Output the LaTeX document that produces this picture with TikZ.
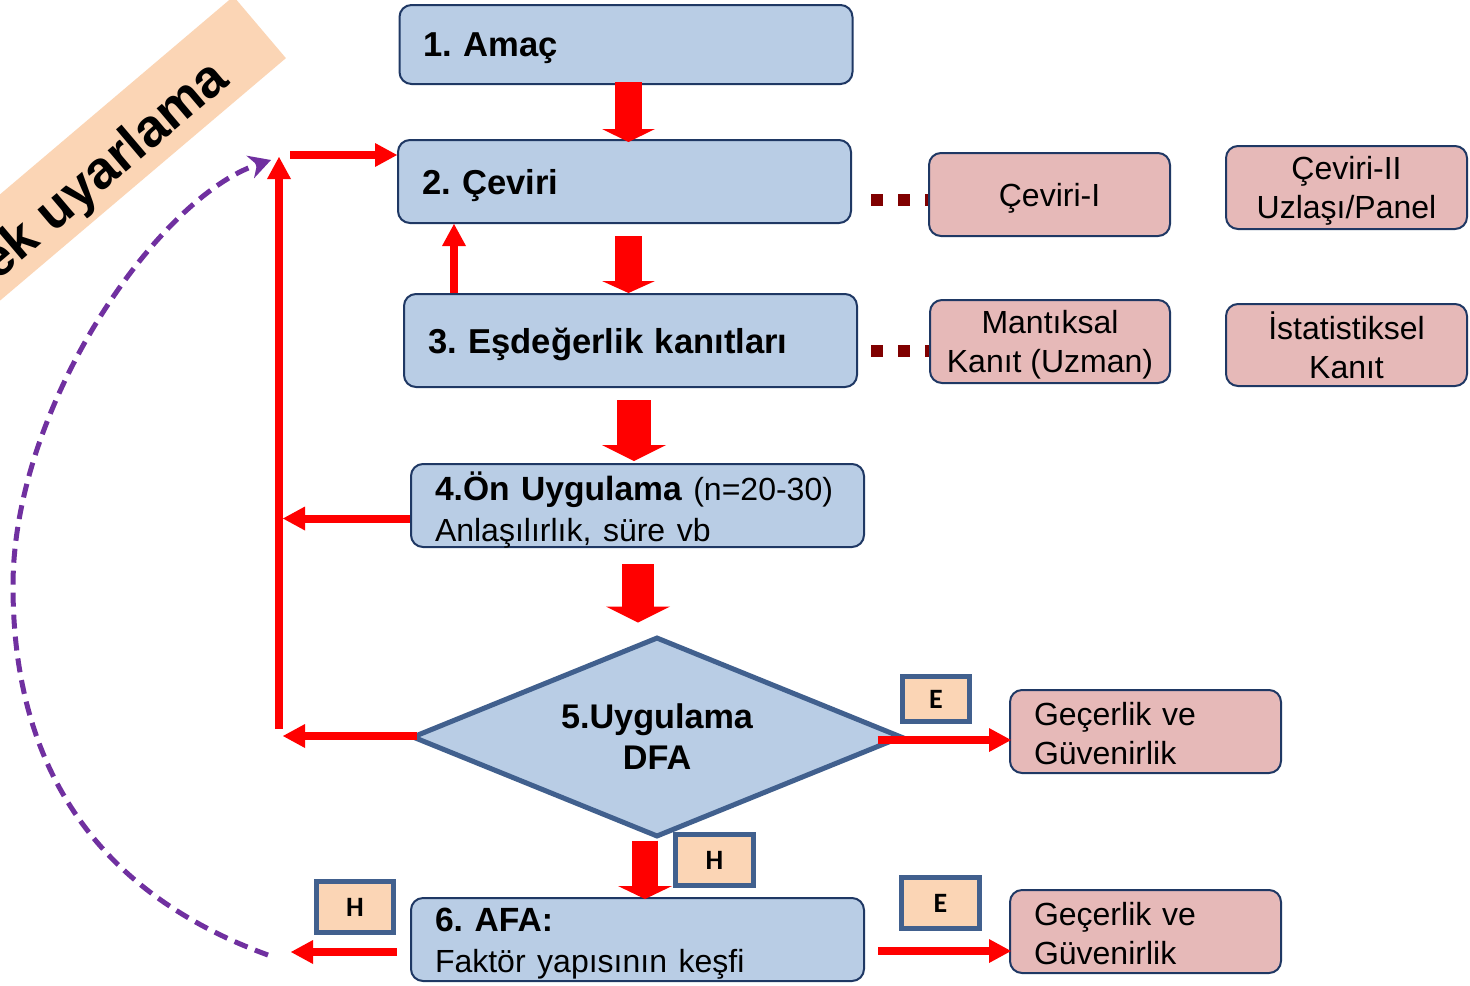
\documentclass[tikz,border=0pt]{standalone}
\usepackage{fontspec}
\setmainfont{Liberation Sans}
\newfontfamily\calib{Carlito}
\usetikzlibrary{arrows.meta,shapes.geometric,backgrounds,calc}
\frenchspacing
\definecolor{boxblue}{RGB}{185,205,229}
\definecolor{boxpink}{RGB}{230,185,184}
\definecolor{peach}{RGB}{251,213,181}
\definecolor{navy}{RGB}{31,56,100}
\definecolor{steel}{RGB}{65,96,142}
\definecolor{dotred}{RGB}{128,0,0}
\definecolor{purp}{RGB}{112,48,160}
\tikzset{
  bluebox/.style={draw=navy, line width=1pt, fill=boxblue, rounded corners=6pt,
    minimum height=41.5pt, inner xsep=12pt, inner ysep=0pt, text width=202.5pt,
    text depth=0pt, align=left, font=\fontsize{17.3}{20.5}\selectfont\bfseries},
  pinkbox/.style={draw=navy, line width=1pt, fill=boxpink, rounded corners=6pt,
    minimum width=120.5pt, minimum height=41.5pt, inner sep=0pt, align=center,
    text depth=0pt, font=\fontsize{16}{19.5}\selectfont},
  leftpink/.style={pinkbox, inner xsep=12pt, text width=111.5pt, align=left, text depth=18pt},
  tagbox/.style={draw=steel, line width=2.5pt, fill=peach, inner sep=0pt,
    minimum width=39pt, minimum height=25.5pt, font=\calib\fontsize{14}{16}\selectfont\bfseries},
  thinarrow/.style={draw=red, line width=4pt, -{Triangle[width=12pt,length=11pt,line width=0pt]}},
  dotline/.style={draw=dotred, line width=6pt, dash pattern=on 6pt off 7.5pt},
}
\begin{document}
\begin{tikzpicture}[x=0.5pt,y=-0.5pt]
\useasboundingbox (0,0) rectangle (1470,985);
\begin{pgfonlayer}{background}
\fill[white] (0,0) rectangle (1470,985);
\end{pgfonlayer}
\clip (0,0) rectangle (1470,985);

% banner
\node[fill=peach, rotate=40.3, minimum width=500pt, minimum height=40.5pt, inner sep=0pt, anchor=east] (ban) at (260,27) {};
\node[rotate=40.3, anchor=east, inner sep=0pt, font=\fontsize{26.5}{30}\selectfont\bfseries] (bantext) at (222.6,72.2) {ek uyarlama};

% main boxes
\node[bluebox, minimum height=39.5pt] (b1) at (626,44.5) {1. Amaç};
\node[bluebox] (b2) at (624.5,181.5) {2. Çeviri};
\node[bluebox, minimum height=46.5pt] (b3) at (630.5,340.5) {3. Eşdeğerlik kanıtları};
\node[bluebox, text depth=19.5pt] (b4) at (637.5,505.5) {\fontsize{16.8}{19.5}\selectfont 4.Ön Uygulama {\mdseries\fontsize{16}{19.5}\selectfont (n=20-30)}\\
  \mdseries\fontsize{16}{19.5}\selectfont Anlaşılırlık, süre vb};
\node[diamond, aspect=2.45, draw=steel, line width=2.5pt, fill=boxblue, minimum width=245pt, minimum height=100pt,
  inner sep=0pt, align=center, font=\fontsize{17.1}{20.5}\selectfont\bfseries] (d5) at (657,737) {5.Uygulama\\DFA};
\node[bluebox, text depth=20pt] (b6) at (637.5,939.5) {\fontsize{16.8}{20}\selectfont 6. AFA:\\
  \mdseries\fontsize{16}{20}\selectfont Faktör yapısının keşfi};

% side boxes
\node[pinkbox] (c1) at (1049.5,194.5) {Çeviri-I};
\node[pinkbox] (c2) at (1346.5,187.5) {Çeviri-II\\Uzlaşı/Panel};
\node[pinkbox, minimum width=120pt] (c3) at (1050,341.5) {Mantıksal\\Kanıt (Uzman)};
\node[pinkbox, minimum height=41pt] (c4) at (1346.5,345) {İstatistiksel\\Kanıt};
\node[leftpink] (g1) at (1145.5,731.5) {Geçerlik ve\\Güvenirlik};
\node[leftpink] (g2) at (1145.5,931.5) {Geçerlik ve\\Güvenirlik};

% tags
\node[tagbox, minimum width=33.5pt, minimum height=22.5pt] (e1) at (936,699) {E};
\node[tagbox] (e2) at (940.5,903) {E};
\node[tagbox] (h1) at (714.5,860) {H};
\node[tagbox, minimum width=38.5pt] (h2) at (355,907) {H};

% dotted links (behind boxes)
\begin{pgfonlayer}{background}
\coordinate (d1) at ($(b2.east)+(19,18.5)$);
\draw[dotline] (d1) -- ($(d1 -| c1.west)+(8,0)$);
\coordinate (d2) at ($(b3.east)+(13,10.5)$);
\draw[dotline] (d2) -- ($(d2 -| c3.west)+(8,0)$);
\end{pgfonlayer}

% block arrows
\coordinate (a1) at ($(b1.south)+(2.5,-3)$);
\draw[draw=red, line width=13.5pt, -{Triangle[width=26.5pt,length=6.5pt,line width=0pt]}] (a1) -- ($(a1 |- b2.north)+(0,3)$);
\coordinate (a2) at ($(b2.south)+(4,12)$);
\draw[draw=red, line width=13.5pt, -{Triangle[width=26.5pt,length=6pt,line width=0pt]}] (a2) -- (a2 |- b3.north);
\coordinate (a3) at ($(b3.south)+(3.5,12)$);
\draw[draw=red, line width=17pt, -{Triangle[width=32pt,length=8pt,line width=0pt]}] (a3) -- ($(a3 |- b4.north)+(0,-2)$);
\coordinate (a4) at ($(b4.south)+(0.5,16)$);
\draw[draw=red, line width=16pt, -{Triangle[width=32pt,length=8pt,line width=0pt]}] (a4) -- ($(a4 |- d5.north)+(0,-12)$);
\coordinate (a5) at ($(d5.south)+(-12,1)$);
\draw[draw=red, line width=13pt, -{Triangle[width=27pt,length=6.5pt,line width=0pt]}] (a5) -- ($(a5 |- b6.north)+(0,2)$);

% thin red arrows
\coordinate (up) at ($(b3.north west)+(51,0)$);
\draw[thinarrow] (up) -- (up |- b2.south);
\coordinate (vbot) at (279,729);
\coordinate (vtop) at (279,157);
\draw[thinarrow] (vbot) -- (vtop);
\coordinate (loopin) at (290,155);
\draw[thinarrow] (loopin) -- (loopin -| b2.west);
\coordinate (r4) at ($(b4.west)+(0,13)$);
\draw[thinarrow] (r4) -- ($(r4 -| vtop)+(4,0)$);
\coordinate (r5) at ($(d5.west)+(7,-1)$);
\draw[thinarrow] (r5) -- ($(r5 -| vtop)+(4,0)$);
\coordinate (e1s) at ($(d5.east)+(-27,3)$);
\draw[thinarrow] (e1s) -- ($(e1s -| g1.west)+(2,0)$);
\coordinate (e2s) at ($(b6.east)+(13,11.5)$);
\draw[thinarrow] (e2s) -- ($(e2s -| g2.west)+(2,0)$);
\coordinate (h2s) at ($(b6.west)+(-13,12.5)$);
\coordinate (h2e) at (291,952);
\draw[thinarrow] (h2s) -- (h2e);

% purple dashed return curve
\coordinate (pstart) at (268,955);
\coordinate (ptip) at (271,160);
\draw[draw=purp, line width=2.5pt, dash pattern=on 7pt off 4pt, -{Stealth[length=11pt,width=12pt,line width=0pt]}]
  (pstart) .. controls (90,890) and (13,760) .. (13,586) .. controls (13,406) and (158,198) .. (ptip);
\end{tikzpicture}
\end{document}
